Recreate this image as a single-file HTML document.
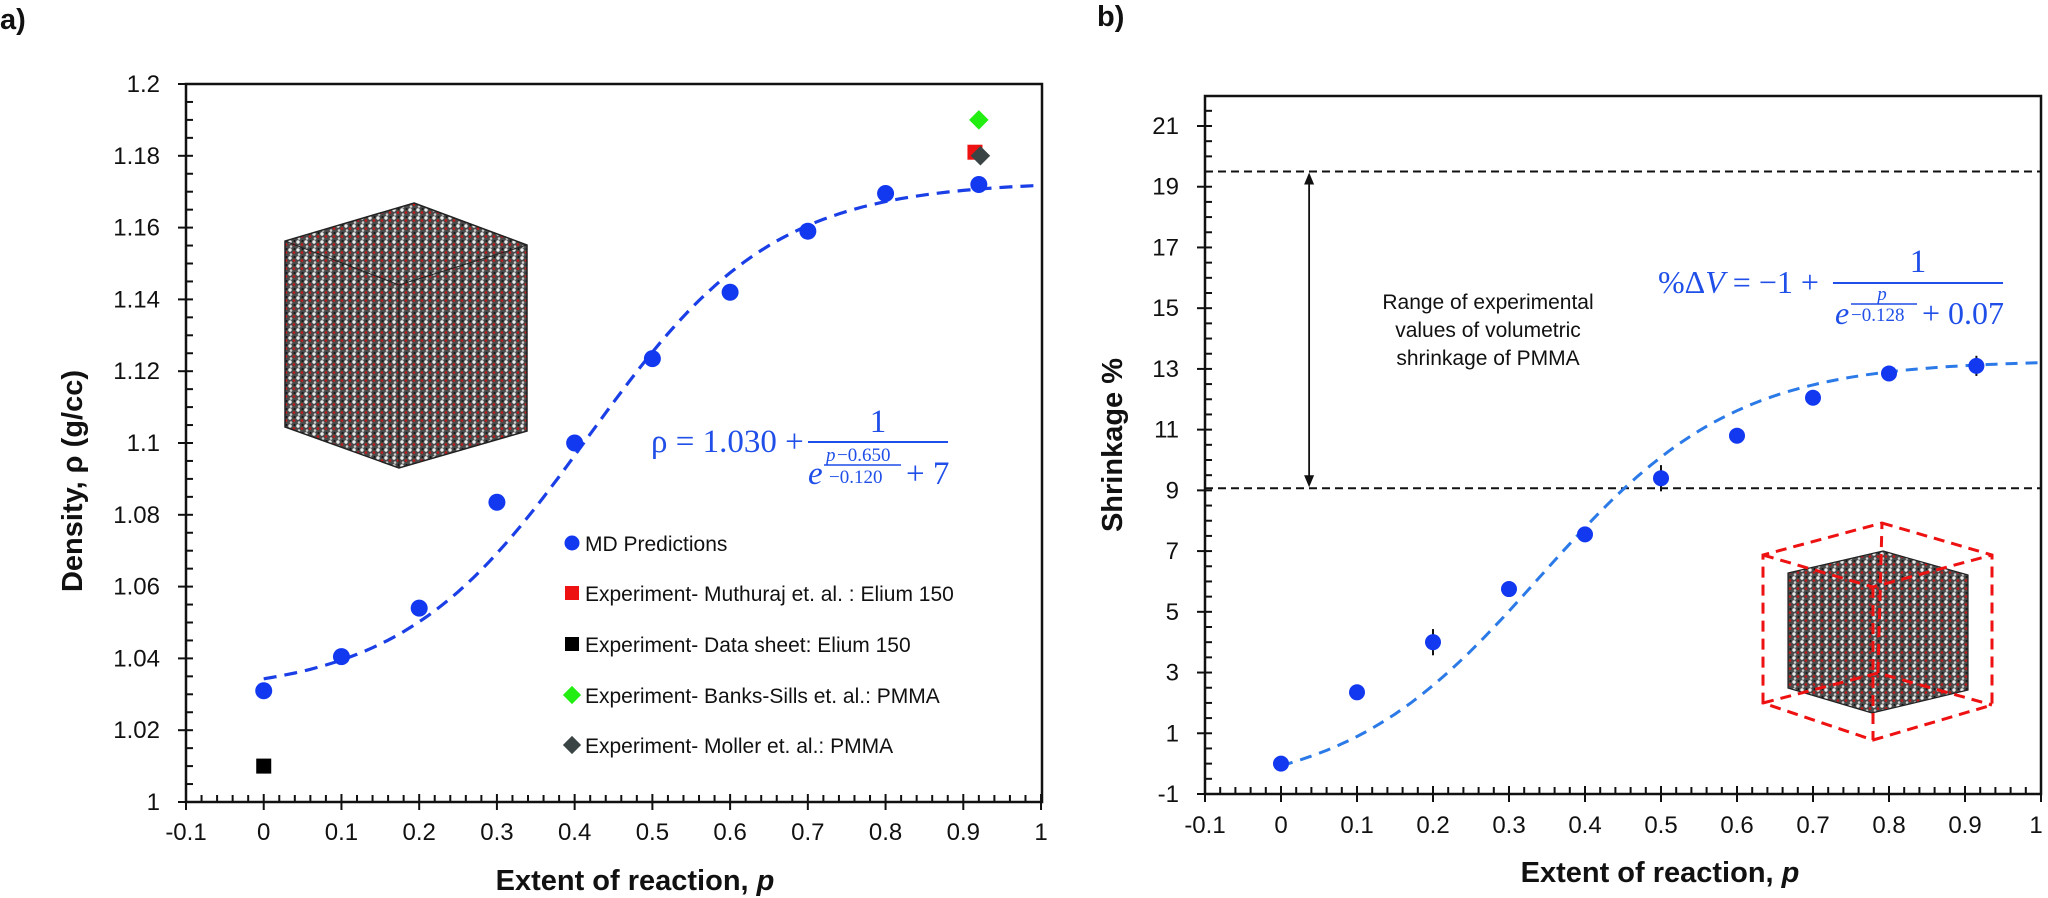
<!DOCTYPE html>
<html><head><meta charset="utf-8">
<style>
html,body{margin:0;padding:0;background:#fff;}
svg{display:block;}
.tk{font-family:"Liberation Sans Narrow","Liberation Sans",sans-serif;font-size:24px;fill:#111;}
.ttl{font-family:"Liberation Sans",sans-serif;font-weight:bold;font-size:29px;fill:#111;}
.lg{font-family:"Liberation Sans Narrow","Liberation Sans",sans-serif;font-size:21px;fill:#111;}
.eq{font-family:"Liberation Serif",serif;fill:#1f4fe8;}
</style></head>
<body>
<svg id="chart" width="2048" height="898" viewBox="0 0 2048 898" xmlns="http://www.w3.org/2000/svg">
<defs>
<pattern id="mol" width="8" height="8" patternUnits="userSpaceOnUse">
<rect width="8" height="8" fill="#4a4a4a"/>
<circle cx="2" cy="2" r="1.7" fill="#eeeeee"/>
<circle cx="6" cy="4.5" r="1.3" fill="#c81818"/>
<circle cx="3" cy="6.5" r="1.3" fill="#cfcfcf"/>
<circle cx="6.5" cy="1" r="1" fill="#111"/>
</pattern>
</defs>
<text x="0" y="29" class="ttl">a)</text>
<text x="1097" y="26" class="ttl">b)</text>
<g id="left"></g>
<g id="right"></g>
</svg>
<script>
// ---- Panel a data ----
const densP = [0, 0.1, 0.2, 0.3, 0.4, 0.5, 0.6, 0.7, 0.8, 0.92];
const densV = [1.031, 1.0405, 1.054, 1.0835, 1.100, 1.1235, 1.142, 1.159, 1.1695, 1.172];
const expNames = ["Experiment- Muthuraj et. al. : Elium 150","Experiment- Data sheet: Elium 150","Experiment- Banks-Sills et. al.: PMMA","Experiment- Moller et. al.: PMMA"];
const expP = [0.915, 0, 0.92, 0.922];
const expV = [1.181, 1.010, 1.190, 1.180];
const densFit = [1.030, 0.650, -0.120, 7];
const densYTicks = [1, 1.02, 1.04, 1.06, 1.08, 1.1, 1.12, 1.14, 1.16, 1.18, 1.2];
const xTicks = [-0.1, 0, 0.1, 0.2, 0.3, 0.4, 0.5, 0.6, 0.7, 0.8, 0.9, 1];
// ---- Panel b data ----
const shrP = [0, 0.1, 0.2, 0.3, 0.4, 0.5, 0.6, 0.7, 0.8, 0.915];
const shrV = [0, 2.35, 4.0, 5.75, 7.55, 9.4, 10.8, 12.05, 12.85, 13.1];
const shrErr = [0, 0, 0.3, 0, 0, 0.3, 0, 0, 0, 0.2];
const shrFit = [-1, -0.128, 0.07];
const shrYTicks = [-1, 1, 3, 5, 7, 9, 11, 13, 15, 17, 19, 21];
const rangeLines = [19.5, 9.07];

const NS = "http://www.w3.org/2000/svg";
function mk(parent, tag, attrs, text){
  const e = document.createElementNS(NS, tag);
  for (const k in attrs) e.setAttribute(k, attrs[k]);
  if (text !== undefined) e.textContent = text;
  parent.appendChild(e); return e;
}
const fmt = v => (Math.round(v*100)/100).toString();

// ===== Panel a =====
const L = document.getElementById('left');
const xL = p => 186 + (p + 0.1) * 777.3;
const yL = v => 802 - (v - 1) / 0.2 * 718;
let r = mk(L,'rect',{x:186,y:84,width:856,height:718,fill:'none',stroke:'#111','stroke-width':2.5});
 
densYTicks.forEach(v=>{
  const y = yL(v);
  let t = mk(L,'line',{x1:178,x2:193,y1:y,y2:y,stroke:'#111','stroke-width':2});
   
  let lb = mk(L,'text',{x:160,y:y+8,'text-anchor':'end',class:'tk'}, fmt(v));
   
});
for (let i=1;i<40;i++){ if (i%4===0) continue; const y = yL(1 + i*0.005);
  mk(L,'line',{x1:186,x2:193,y1:y,y2:y,stroke:'#111','stroke-width':2});}
xTicks.forEach(p=>{
  const x = xL(p);
  let t = mk(L,'line',{x1:x,x2:x,y1:794,y2:810,stroke:'#111','stroke-width':2});
   
  let lb = mk(L,'text',{x:x,y:840,'text-anchor':'middle',class:'tk'}, fmt(p));
   
});
for (let i=0;i<55;i++){ if (i%5===0) continue; const x = xL(-0.1 + i*0.02);
  mk(L,'line',{x1:x,x2:x,y1:795,y2:802,stroke:'#111','stroke-width':2});}
let xt = mk(L,'text',{x:635,y:890,'text-anchor':'middle',class:'ttl'});
xt.innerHTML = 'Extent of reaction, <tspan font-style="italic">p</tspan>';
 
let yt = mk(L,'text',{x:0,y:0,'text-anchor':'middle',class:'ttl',transform:'translate(82,481) rotate(-90)'}, 'Density, ρ (g/cc)');
 
let m1 = mk(L,'polygon',{points:'414,203 527,245 527,431 399,468 285,427 285,241',fill:'url(#mol)',stroke:'#222','stroke-width':1.5});
 
mk(L,'polyline',{points:'285,241 399,285 527,245',fill:'none',stroke:'#222','stroke-width':1});
mk(L,'line',{x1:399,y1:285,x2:399,y2:468,stroke:'#222','stroke-width':1});
let d='';
for (let i=0;i<=100;i++){ const p=i/100; const v = densFit[0] + 1/(Math.exp((p-densFit[1])/densFit[2]) + densFit[3]);
  d += (i?'L':'M') + xL(p).toFixed(1) + ',' + yL(v).toFixed(1); }
let fc = mk(L,'path',{d:d,fill:'none',stroke:'#1a3fe6','stroke-width':3.2,'stroke-dasharray':'13 8'});
 
densP.forEach((p,i)=>{
  let c = mk(L,'circle',{cx:xL(p),cy:yL(densV[i]),r:8.5,fill:'#1238f0'});
   
});
function marker(g, kind, x, y, s){
  if (kind===0) return mk(g,'rect',{x:x-s,y:y-s,width:2*s,height:2*s,fill:'#ee1111'});
  if (kind===1) return mk(g,'rect',{x:x-s,y:y-s,width:2*s,height:2*s,fill:'#000'});
  if (kind===2) return mk(g,'polygon',{points:`${x},${y-s*1.3} ${x+s*1.3},${y} ${x},${y+s*1.3} ${x-s*1.3},${y}`,fill:'#22ee11'});
  return mk(g,'polygon',{points:`${x},${y-s*1.3} ${x+s*1.3},${y} ${x},${y+s*1.3} ${x-s*1.3},${y}`,fill:'#3a4444'});
}
expP.forEach((p,i)=>{
  let m = marker(L,i,xL(p),yL(expV[i]),7.5);
   
});
let eqa = mk(L,'g',{});
 
mk(eqa,'text',{x:651,y:452,class:'eq','font-size':33},'ρ = 1.030 +');
mk(eqa,'line',{x1:808,x2:948,y1:442,y2:442,stroke:'#1f4fe8','stroke-width':2});
mk(eqa,'text',{x:878,y:432,class:'eq','font-size':33,'text-anchor':'middle'},'1');
mk(eqa,'text',{x:808,y:484,class:'eq','font-size':33,'font-style':'italic'},'e');
mk(eqa,'text',{x:826,y:461,class:'eq','font-size':19,'font-style':'italic'},'p');
mk(eqa,'text',{x:837,y:461,class:'eq','font-size':19},'−0.650');
mk(eqa,'line',{x1:824,x2:901,y1:465,y2:465,stroke:'#1f4fe8','stroke-width':1.5});
mk(eqa,'text',{x:829,y:483,class:'eq','font-size':19},'−0.120');
mk(eqa,'text',{x:906,y:484,class:'eq','font-size':33},'+ 7');
const lgY = [543, 593, 644, 695, 745];
let lg = mk(L,'g',{});  
let lc = mk(lg,'circle',{cx:572,cy:lgY[0],r:7.5,fill:'#1238f0'});
 
let lt = mk(lg,'text',{x:585,y:lgY[0]+8,class:'lg'},'MD Predictions');
 
expNames.forEach((n,i)=>{
  let m = marker(lg,i,572,lgY[i+1],7);
   
  let t = mk(lg,'text',{x:585,y:lgY[i+1]+8,class:'lg'},n);
   
});

// ===== Panel b =====
const R = document.getElementById('right');
const xR = p => 1205 + (p + 0.1) * 760;
const yR = v => 794 - (v + 1) / 22 * 668;
let r2 = mk(R,'path',{d:'M1205,794 L1205,96 L2041,96 L2041,794 Z',fill:'none',stroke:'#111','stroke-width':2.5});
 
shrYTicks.forEach(v=>{
  const y = yR(v);
  let t = mk(R,'line',{x1:1197,x2:1212,y1:y,y2:y,stroke:'#111','stroke-width':2});
   
  let lb = mk(R,'text',{x:1179,y:y+8,'text-anchor':'end',class:'tk'}, String(v));
   
});
for (let i=1;i<46;i++){ if (i%4===0) continue; const y = yR(-1 + i*0.5);
  mk(R,'line',{x1:1205,x2:1212,y1:y,y2:y,stroke:'#111','stroke-width':2});}
xTicks.forEach(p=>{
  const x = xR(p);
  let t = mk(R,'line',{x1:x,x2:x,y1:786,y2:802,stroke:'#111','stroke-width':2});
   
  let lb = mk(R,'text',{x:Math.min(x,2036),y:833,'text-anchor':'middle',class:'tk'}, fmt(p));
   
});
for (let i=0;i<55;i++){ if (i%5===0) continue; const x = xR(-0.1 + i*0.02);
  mk(R,'line',{x1:x,x2:x,y1:787,y2:794,stroke:'#111','stroke-width':2});}
let xt2 = mk(R,'text',{x:1660,y:882,'text-anchor':'middle',class:'ttl'});
xt2.innerHTML = 'Extent of reaction, <tspan font-style="italic">p</tspan>';
 
let yt2 = mk(R,'text',{x:0,y:0,'text-anchor':'middle',class:'ttl',transform:'translate(1122,445) rotate(-90)'}, 'Shrinkage %');
 
rangeLines.forEach(v=>{
  let l = mk(R,'line',{x1:1205,x2:2041,y1:yR(v),y2:yR(v),stroke:'#111','stroke-width':2,'stroke-dasharray':'8 5'});
   
});
const ax = xR(0.037);
let ar = mk(R,'g',{});  
mk(ar,'line',{x1:ax,x2:ax,y1:yR(rangeLines[0])+10,y2:yR(rangeLines[1])-10,stroke:'#111','stroke-width':1.8});
mk(ar,'polygon',{points:`${ax},${yR(rangeLines[0])+1} ${ax-5},${yR(rangeLines[0])+13} ${ax+5},${yR(rangeLines[0])+13}`,fill:'#111'});
mk(ar,'polygon',{points:`${ax},${yR(rangeLines[1])-1} ${ax-5},${yR(rangeLines[1])-13} ${ax+5},${yR(rangeLines[1])-13}`,fill:'#111'});
let rt = mk(R,'g',{});  
['Range of experimental','values of volumetric','shrinkage of PMMA'].forEach((s,i)=>{
  mk(rt,'text',{x:1488,y:309+i*28,'text-anchor':'middle',class:'lg','font-size':21},s);
});
let eqb = mk(R,'g',{});  
mk(eqb,'text',{x:1658,y:293,class:'eq','font-size':32}).innerHTML='%Δ<tspan font-style="italic">V</tspan> = −1 +';
mk(eqb,'line',{x1:1833,x2:2003,y1:283,y2:283,stroke:'#1f4fe8','stroke-width':2});
mk(eqb,'text',{x:1918,y:272,class:'eq','font-size':33,'text-anchor':'middle'},'1');
mk(eqb,'text',{x:1835,y:324,class:'eq','font-size':32,'font-style':'italic'},'e');
mk(eqb,'text',{x:1882,y:300,class:'eq','font-size':19,'font-style':'italic','text-anchor':'middle'},'p');
mk(eqb,'line',{x1:1851,x2:1917,y1:304,y2:304,stroke:'#1f4fe8','stroke-width':1.5});
mk(eqb,'text',{x:1851,y:321,class:'eq','font-size':19},'−0.128');
mk(eqb,'text',{x:1922,y:324,class:'eq','font-size':32},'+ 0.07');
let cb = mk(R,'g',{});  
mk(cb,'polygon',{points:'1883,551 1968,575 1968,690 1872,713 1788,688 1788,573',fill:'url(#mol)',stroke:'#222','stroke-width':1.2});
const rd = {fill:'none',stroke:'#ee1111','stroke-width':3,'stroke-dasharray':'11 7'};
mk(cb,'polygon',Object.assign({points:'1882,523 1992,555 1992,705 1873,740 1763,703 1763,555'},rd));
mk(cb,'polyline',Object.assign({points:'1763,555 1873,587 1992,555'},rd));
mk(cb,'line',Object.assign({x1:1873,y1:587,x2:1873,y2:740},rd));
mk(cb,'polyline',Object.assign({points:'1763,703 1878,673 1992,705'},rd));
mk(cb,'line',Object.assign({x1:1878,y1:673,x2:1882,y2:523},rd));
let d2='';
for (let i=0;i<=100;i++){ const p=i/100; const v = shrFit[0] + 1/(Math.exp(p/shrFit[1]) + shrFit[2]);
  d2 += (i?'L':'M') + xR(p).toFixed(1) + ',' + yR(v).toFixed(1); }
let fc2 = mk(R,'path',{d:d2,fill:'none',stroke:'#2b7ae8','stroke-width':3,'stroke-dasharray':'12 8'});
 
shrP.forEach((p,i)=>{
  if (shrErr[i]>0){
    let e = mk(R,'line',{x1:xR(p),x2:xR(p),y1:yR(shrV[i]+shrErr[i])-4,y2:yR(shrV[i]-shrErr[i])+4,stroke:'#111','stroke-width':2});
     
  }
  let c = mk(R,'circle',{cx:xR(p),cy:yR(shrV[i]),r:8,fill:'#1238f0'});
   
});
</script>
</body></html>
